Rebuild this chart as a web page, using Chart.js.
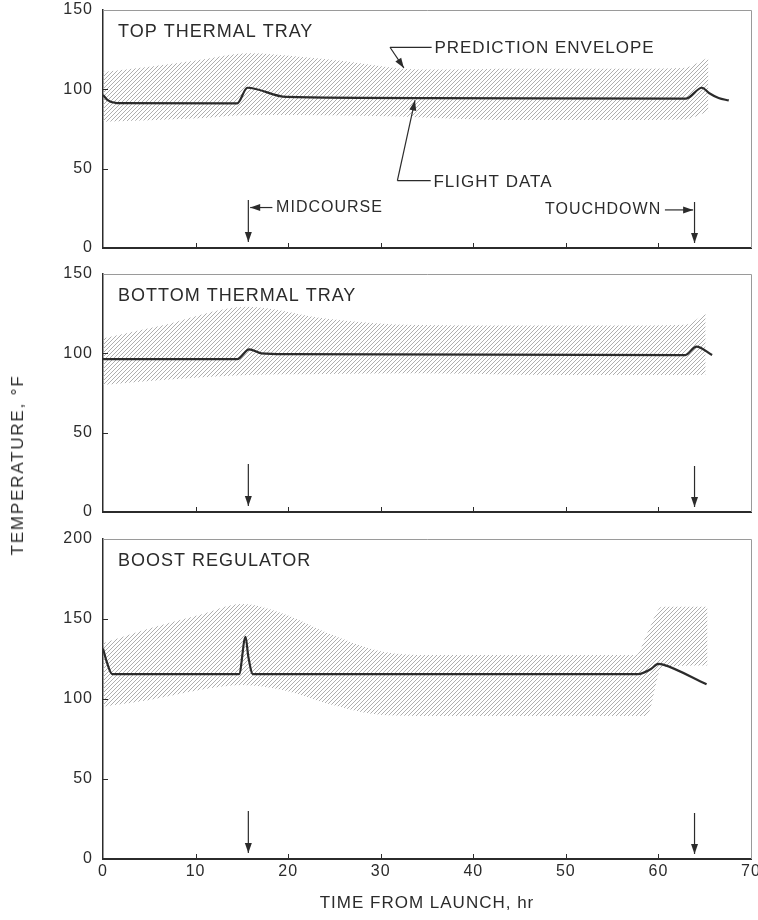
<!DOCTYPE html>
<html>
<head>
<meta charset="utf-8">
<script src="https://cdn.jsdelivr.net/npm/chart.js@4/dist/chart.umd.min.js"></script>
<style>
  body { margin: 0; background: #fff; }
  #wrap { position: relative; width: 758px; height: 920px; }
  canvas { position: absolute; left: 0; }
  #ytitle {
    position: absolute; left: 18px; top: 465px;
    transform: translate(-50%, -50%) rotate(-90deg);
    font: 17px "Liberation Sans", Arial, sans-serif; letter-spacing: 1.8px;
    color: #2b2b2b; white-space: nowrap;
  }
</style>
</head>
<body>
<div id="wrap">
  <canvas id="c1" width="758" height="260" style="top:0px"></canvas>
  <canvas id="c2" width="758" height="260" style="top:260px"></canvas>
  <canvas id="c3" width="758" height="400" style="top:520px"></canvas>
  <div id="ytitle">TEMPERATURE, °F</div>
</div>
<script>
const ink = '#2b2b2b'
const fontName = '"Liberation Sans", Arial, sans-serif'

// time from launch (hr) and temperature (°F)
const topTime = [0, 0.5, 1.5, 14.5, 15.6, 19.8, 35, 63.0, 64.7, 65.5, 66.5, 67.6]
const topTemp = [96.5, 93.2, 91.3, 91.2, 101, 95.2, 94.5, 94.2, 101, 97.5, 94.5, 93]
const topEnvTime = [0, 5, 10.4, 15.8, 21.2, 26.6, 32, 36, 45, 55, 62.7, 65.4]
const topEnvHigh = [111, 114.3, 118.5, 122.7, 120.5, 117.4, 113.2, 112.5, 113, 113, 113.5, 120]
const topEnvLow = [79.6, 80.5, 81.7, 83.8, 83.8, 83.5, 82.8, 82, 80.6, 80.6, 81, 86]

const bottomTime = [0, 14.5, 15.8, 17.1, 20, 62.9, 64.1, 65.8]
const bottomTemp = [96.4, 96.4, 102.5, 100, 99.5, 98.9, 104.2, 98.9]
const bottomEnvTime = [0, 6, 15.6, 24, 34, 45, 55, 62.9, 65.1]
const bottomEnvHigh = [109.4, 117, 129.4, 122, 117.8, 117.5, 117.5, 118, 125.2]
const bottomEnvLow = [80, 83, 86.3, 87, 87.4, 86.5, 86.3, 86.3, 86.5]

const boostTime = [0, 0.4, 1.0, 14.7, 15.4, 15.7, 16.2, 57.8, 59.1, 60.0, 60.5, 65.2]
const boostTemp = [131.6, 123.3, 115.6, 115.6, 138.9, 126.4, 115.6, 115.6, 118.4, 121.9, 121.5, 109.2]
const boostEnvTime = [0, 5, 10.4, 15, 19.4, 24.8, 30.2, 35.3, 45, 57.6, 58.7, 60.4, 65.3]
const boostEnvHigh = [134.8, 144, 152.5, 159.4, 153.5, 140, 129.6, 127.5, 127.5, 127.5, 140, 157.7, 157.7]
const boostEnvLow = [95.2, 99.4, 105.6, 108.8, 105.6, 96.2, 90, 89.4, 89.4, 89.4, 89.4, 120, 121]

const midcourse = 15.7
const touchdown = 63.9

function points(xs, ys) {
    return xs.map((x, i) => ({ x: x, y: ys[i] }))
}

function hatch() {
    let c = document.createElement('canvas')
    c.width = 4
    c.height = 4
    let g = c.getContext('2d')
    g.strokeStyle = '#a6a6a6'
    g.lineWidth = 0.9
    g.beginPath()
    g.moveTo(0, 4); g.lineTo(4, 0)
    g.moveTo(-1, 1); g.lineTo(1, -1)
    g.moveTo(3, 5); g.lineTo(5, 3)
    g.stroke()
    return g.createPattern(c, 'repeat')
}
const pattern = hatch()

function arrow(ctx, x1, y1, x2, y2) {
    ctx.beginPath()
    ctx.moveTo(x1, y1)
    ctx.lineTo(x2, y2)
    ctx.stroke()
    let a = Math.atan2(y2 - y1, x2 - x1), L = 10, W = 3.5
    ctx.beginPath()
    ctx.moveTo(x2, y2)
    ctx.lineTo(x2 - L * Math.cos(a) + W * Math.sin(a), y2 - L * Math.sin(a) - W * Math.cos(a))
    ctx.lineTo(x2 - L * Math.cos(a) - W * Math.sin(a), y2 - L * Math.sin(a) + W * Math.cos(a))
    ctx.closePath()
    ctx.fill()
}

function topNotes(ctx, x, y) {
    let px = v => x.getPixelForValue(v), py = v => y.getPixelForValue(v)
    ctx.font = '17px ' + fontName
    ctx.letterSpacing = '1px'
    ctx.fillText('PREDICTION ENVELOPE', px(35.8), py(126))
    ctx.beginPath(); ctx.moveTo(px(35.5), py(126.5)); ctx.lineTo(px(31), py(126.5)); ctx.stroke()
    arrow(ctx, px(31), py(126.5), px(32.5), py(113.5))
    ctx.fillText('FLIGHT DATA', px(35.7), py(41.5))
    ctx.beginPath(); ctx.moveTo(px(35.4), py(42.5)); ctx.lineTo(px(31.8), py(42.5)); ctx.stroke()
    arrow(ctx, px(31.8), py(42.5), px(33.7), py(93))
    ctx.font = '16px ' + fontName
    ctx.fillText('MIDCOURSE', px(18.7), py(25.5))
    arrow(ctx, px(18.3), py(25.5), px(midcourse + 0.2), py(25.5))
    ctx.textAlign = 'right'
    ctx.fillText('TOUCHDOWN', px(60.3), py(24))
    arrow(ctx, px(60.7), py(24), px(touchdown - 0.15), py(24))
}

function deco(title, notes) {
    return {
        id: 'deco',
        beforeDraw(chart) {
            chart.ctx.letterSpacing = '1px'
        },
        afterDraw(chart) {
            const { ctx, chartArea: a, scales: { x, y } } = chart
            ctx.save()
            ctx.strokeStyle = '#9a9a9a'
            ctx.lineWidth = 1
            ctx.beginPath()
            ctx.moveTo(a.left, a.top + 0.5)
            ctx.lineTo(a.right + 0.5, a.top + 0.5)
            ctx.lineTo(a.right + 0.5, a.bottom)
            ctx.stroke()

            ctx.strokeStyle = ink
            ctx.fillStyle = ink
            ctx.lineWidth = 1
            ctx.beginPath()
            for (let t = 10; t < 70; t += 10) {
                let xp = Math.round(x.getPixelForValue(t)) + 0.5
                ctx.moveTo(xp, a.bottom)
                ctx.lineTo(xp, a.bottom - 5)
            }
            y.ticks.forEach(tk => {
                if (tk.value > 0 && tk.value < y.max) {
                    let yp = Math.round(y.getPixelForValue(tk.value)) + 0.5
                    ctx.moveTo(a.left, yp)
                    ctx.lineTo(a.left + 5, yp)
                }
            })
            ctx.stroke()

            ctx.font = '18px ' + fontName
            ctx.letterSpacing = '1px'
            ctx.textBaseline = 'middle'
            ctx.fillText(title, a.left + 15, a.top + 22)

            ctx.lineWidth = 1.2
            arrow(ctx, x.getPixelForValue(midcourse), a.bottom - 48, x.getPixelForValue(midcourse), a.bottom - 6)
            arrow(ctx, x.getPixelForValue(touchdown), a.bottom - 46, x.getPixelForValue(touchdown), a.bottom - 5)
            if (notes) notes(ctx, x, y)
            ctx.restore()
        }
    }
}

function panel(id, title, yMax, showX, padding, flight, high, low, notes) {
    return new Chart(document.getElementById(id), {
        type: 'line',
        data: {
            datasets: [{
                data: flight,
                borderColor: ink,
                borderWidth: 2.2,
                pointRadius: 0,
                cubicInterpolationMode: 'monotone',
                fill: false
            }, {
                data: high,
                borderWidth: 0,
                borderColor: 'rgba(0,0,0,0)',
                backgroundColor: pattern,
                pointRadius: 0,
                cubicInterpolationMode: 'monotone',
                fill: '+1'
            }, {
                data: low,
                borderWidth: 0,
                borderColor: 'rgba(0,0,0,0)',
                pointRadius: 0,
                cubicInterpolationMode: 'monotone',
                fill: false
            }]
        },
        options: {
            responsive: false,
            animation: false,
            layout: { padding: padding },
            plugins: { legend: { display: false }, tooltip: { enabled: false } },
            scales: {
                x: {
                    type: 'linear', min: 0, max: 70,
                    grid: { display: false, drawTicks: false },
                    border: { color: ink, width: 2 },
                    ticks: { display: showX, stepSize: 10, padding: 3, color: ink, font: { family: fontName, size: 16 } },
                    title: { display: showX, text: 'TIME FROM LAUNCH, hr', color: ink, padding: { top: 0, bottom: 3 }, font: { family: fontName, size: 17 } },
                    afterFit: s => { s.height = showX ? 58 : 0; s.paddingLeft = 0; s.paddingRight = 0 }
                },
                y: {
                    min: 0, max: yMax,
                    grid: { display: false, drawTicks: false },
                    border: { color: ink, width: 1.5 },
                    ticks: { stepSize: 50, padding: 10, color: ink, font: { family: fontName, size: 16 } },
                    afterFit: s => { s.width = 103; s.paddingTop = 0; s.paddingBottom = 0 }
                }
            }
        },
        plugins: [deco(title, notes)]
    })
}

panel('c1', 'TOP THERMAL TRAY', 150, false, { top: 10, right: 7, bottom: 12, left: 0 },
    points(topTime, topTemp), points(topEnvTime, topEnvHigh), points(topEnvTime, topEnvLow), topNotes)
panel('c2', 'BOTTOM THERMAL TRAY', 150, false, { top: 14, right: 7, bottom: 8, left: 0 },
    points(bottomTime, bottomTemp), points(bottomEnvTime, bottomEnvHigh), points(bottomEnvTime, bottomEnvLow), null)
panel('c3', 'BOOST REGULATOR', 200, true, { top: 19, right: 7, bottom: 3, left: 0 },
    points(boostTime, boostTemp), points(boostEnvTime, boostEnvHigh), points(boostEnvTime, boostEnvLow), null)
</script>
</body>
</html>
